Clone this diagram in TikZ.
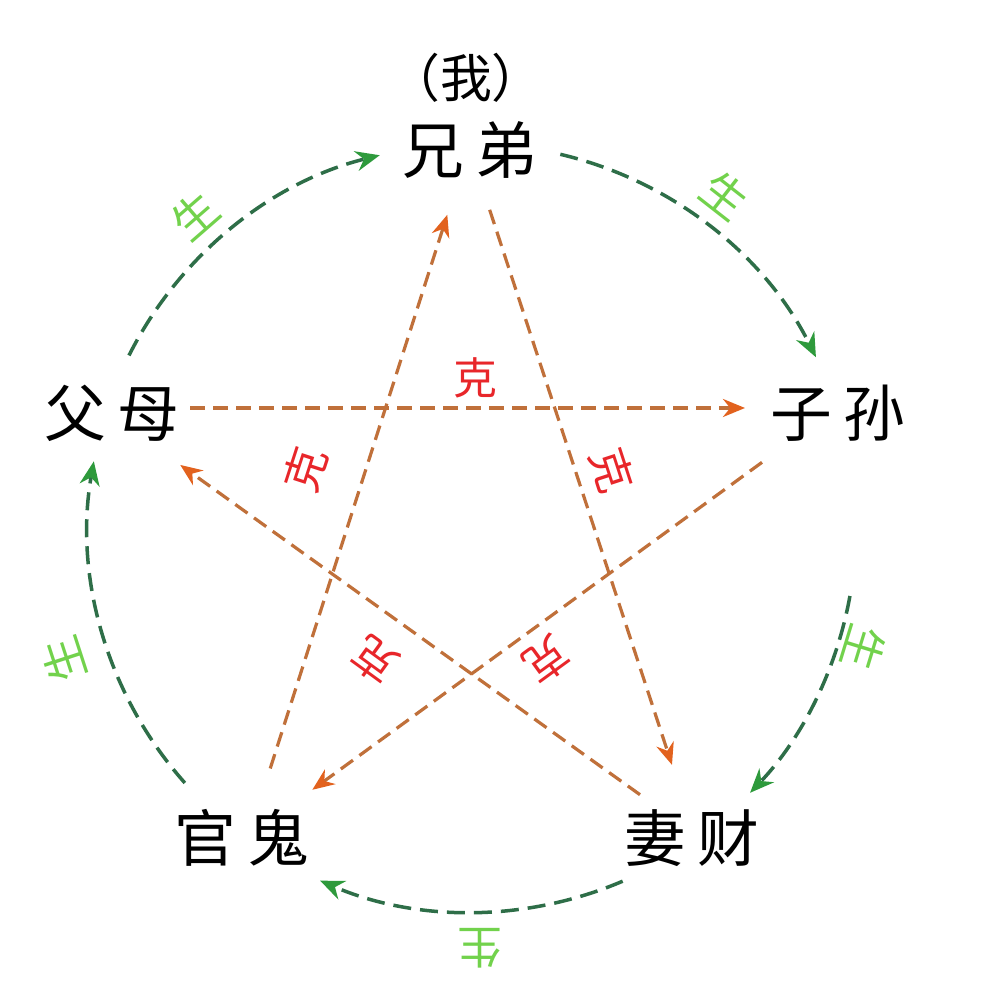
\documentclass[tikz,border=0pt]{standalone}
\usepackage{fontspec}
\newfontfamily\cjk{Noto Sans CJK SC}
\usetikzlibrary{arrows.meta,calc}
\definecolor{gline}{HTML}{2E6E48}
\definecolor{ghead}{HTML}{2E9A3C}
\definecolor{glabel}{HTML}{72D24C}
\definecolor{kline}{HTML}{C0703A}
\definecolor{khead}{HTML}{E2621E}
\definecolor{klabel}{HTML}{E8262A}
\begin{document}
\begin{tikzpicture}[x=1bp,y=1bp,
  lbl/.style={font=\cjk\fontsize{62}{62}\selectfont, text=black, inner sep=0pt},
  wolbl/.style={font=\cjk\fontsize{52}{52}\selectfont, text=black, inner sep=0pt},
  genlbl/.style={font=\cjk\fontsize{45}{45}\selectfont, text=glabel, inner sep=0pt},
  kelbl/.style={font=\cjk\fontsize{44}{44}\selectfont, text=klabel, inner sep=0pt},
  gen/.style={draw=gline, line width=3.5bp, dash pattern=on 18bp off 9bp,
    -{Stealth[length=24bp,width=20bp,fill=ghead,color=ghead]}},
  ke/.style={draw=kline, line width=3.2bp, dash pattern=on 15bp off 8bp,
    -{Stealth[length=22bp,width=18bp,fill=khead,color=khead]}}]
\fill[white] (0,0) rectangle (987,1000);
\useasboundingbox (0,0) rectangle (987,1000);
\coordinate (C) at (472,472);
% names
\node[wolbl] (wo) at (466,922) {（我）};
\node[lbl] (xiongdi) at (470,850) {兄\hspace{12bp}弟};
\node[lbl] (fumu) at (112,587) {父\hspace{12bp}母};
\node[lbl] (zisun) at (838,587) {子\hspace{12bp}孙};
\node[lbl] (guangui) at (242,162) {官\hspace{12bp}鬼};
\node[lbl] (qicai) at (692,162) {妻\hspace{12bp}财};
% generating arcs
\coordinate (g1) at ($(C)+(76.7:384bp)$);
\coordinate (g2) at ($(C)+(-10.2:384bp)$);
\coordinate (g3) at ($(C)+(-66.9:384bp)$);
\coordinate (g4) at ($(C)+(221.6:384bp)$);
\coordinate (g5) at ($(C)+(153.3:384bp)$);
\draw[gen] (g1) arc[start angle=76.7, end angle=26.4, radius=384bp];
\draw[gen] (g2) arc[start angle=-10.2, end angle=-43.6, radius=384bp];
\draw[gen] (g3) arc[start angle=-66.9, end angle=-113.3, radius=384bp];
\draw[gen] (g4) arc[start angle=221.6, end angle=170, radius=384bp];
\draw[gen] (g5) arc[start angle=153.3, end angle=103.9, radius=384bp];
% restraining lines
\draw[ke, shorten <=78bp, shorten >=93bp] ([yshift=5bp]fumu.center) -- ([yshift=5bp]zisun.center);
\draw[ke, shorten <=94bp, shorten >=87bp] ([yshift=6bp]zisun.center) -- ([yshift=-3bp]guangui.center);
\draw[ke, shorten <=73bp, shorten >=68bp] ([xshift=6bp]guangui.center) -- ([xshift=-2bp]xiongdi.center);
\draw[ke, shorten <=63bp, shorten >=77bp] (xiongdi.center) -- ([xshift=4bp]qicai.center);
\draw[ke, shorten <=64bp, shorten >=84bp] ([yshift=6bp]qicai.center) -- ([yshift=-3bp]fumu.center);
% labels
\node[genlbl, rotate=41] (s1) at (195,785) {生};
\node[genlbl, rotate=-38] (s2) at (725,805) {生};
\node[genlbl, rotate=-107] (s3) at (864,352) {生};
\node[genlbl, rotate=108] (s4) at (64,340) {生};
\node[genlbl, rotate=180] (s5) at (480,52) {生};
\node[kelbl] (k1) at (475,622) {克};
\node[kelbl, rotate=72] (k2) at (305,530) {克};
\node[kelbl, rotate=-72] (k3) at (612,530) {克};
\node[kelbl, rotate=144] (k4) at (375,340) {克};
\node[kelbl, rotate=-144] (k5) at (547,340) {克};
\end{tikzpicture}
\end{document}
